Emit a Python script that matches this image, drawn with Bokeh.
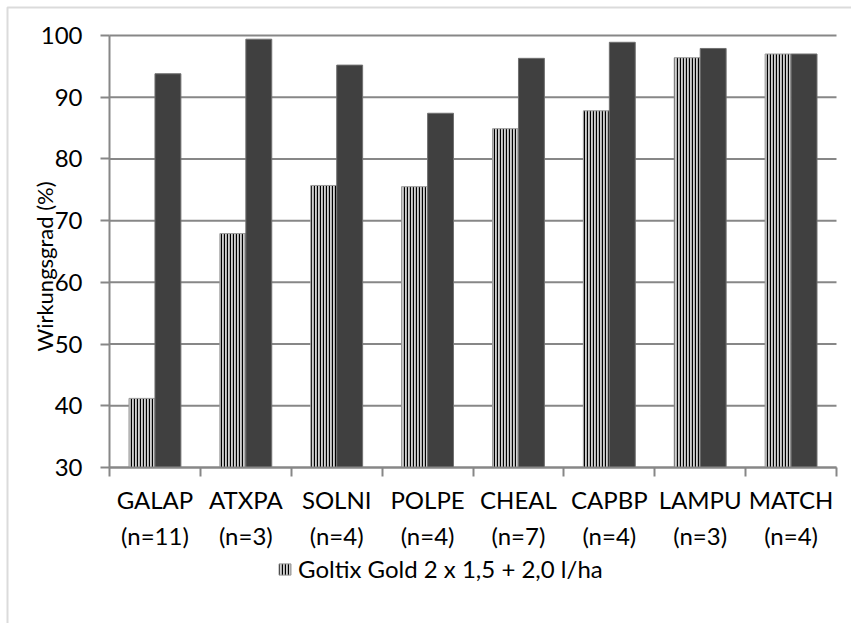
import math
from bokeh.plotting import figure
from bokeh.models import (ColumnDataSource, FixedTicker, Legend, LegendItem,
                          Range1d, Label, BoxAnnotation)
from bokeh.transform import dodge
from bokeh.embed import file_html
from bokeh.resources import INLINE

categories = ["GALAP", "ATXPA", "SOLNI", "POLPE", "CHEAL", "CAPBP", "LAMPU", "MATCH"]
n_counts = ["(n=11)", "(n=3)", "(n=4)", "(n=4)", "(n=7)", "(n=4)", "(n=3)", "(n=4)"]
goltix = [41.2, 67.9, 75.7, 75.5, 84.9, 87.8, 96.4, 97.0]
other = [93.8, 99.4, 95.2, 87.4, 96.3, 98.9, 97.9, 97.0]
legend_label = "Goltix Gold 2 x 1,5 + 2,0 l/ha"
y_title = "Wirkungsgrad (%)"
y_ticks = [30, 40, 50, 60, 70, 80, 90, 100]

FONT = "Lato"
FS = "24px"
GRAY = "#878787"
W, H = 851, 623

# plot area in pixels (the frame is the whole canvas; axes are pinned inside it)
PL, PR, PT, PB = 109, 836, 35, 467
ncat = len(categories)
ymin, ymax = y_ticks[0], y_ticks[-1]
sx = (PR - PL) / ncat
sy = (PB - PT) / (ymax - ymin)
x_start = -PL / sx
x_end = ncat + (W - PR) / sx
y_start = ymin - (H - PB) / sy
y_end = ymax + PT / sy


def px_x(px):
    return (px - PL) / sx


def px_y(py):
    return ymin + (PB - py) / sy


pos = [i + 0.5 for i in range(ncat)]
src = ColumnDataSource(dict(x=pos, goltix=goltix, other=other))

p = figure(width=W, height=H, output_backend="svg", toolbar_location=None,
           x_range=Range1d(x_start, x_end), y_range=Range1d(y_start, y_end),
           min_border=0, min_border_left=0, min_border_right=0,
           min_border_top=0, min_border_bottom=0)
p.outline_line_color = None
p.background_fill_color = "white"
p.border_fill_color = "white"
p.xgrid.visible = False
p.ygrid.visible = False

# horizontal grid lines across the plot area only
p.segment(x0=0, x1=ncat, y0=y_ticks, y1=y_ticks, line_color=GRAY, line_width=2)

r1 = p.vbar(x=dodge("x", -0.143, range=p.x_range), top="goltix", bottom=ymin, width=0.285,
            source=src, fill_color="#d0d0d0", hatch_pattern="|", hatch_color="black",
            hatch_scale=3, hatch_weight=1.3, line_color="#9a9a9a", line_width=1)
r2 = p.vbar(x=dodge("x", 0.143, range=p.x_range), top="other", bottom=ymin, width=0.285,
            source=src, fill_color="#404040", line_color="#707070", line_width=1)

# y axis pinned at x = 0
yax = p.yaxis[0]
yax.fixed_location = 0
yax.bounds = (ymin, ymax)
yax.ticker = FixedTicker(ticks=y_ticks)
yax.axis_line_color = GRAY
yax.axis_line_width = 2
yax.major_tick_line_color = GRAY
yax.major_tick_line_width = 2
yax.major_tick_out = 9
yax.major_tick_in = 0
yax.minor_tick_line_color = None
yax.major_label_text_font = FONT
yax.major_label_text_font_size = FS
yax.major_label_text_color = "black"
yax.major_label_standoff = 18

# x axis pinned at y = 30: labels centred in each category, ticks on boundaries
xax = p.xaxis[0]
xax.fixed_location = ymin
xax.bounds = (0, ncat)
xax.ticker = FixedTicker(ticks=pos, minor_ticks=list(range(ncat + 1)))
xax.major_label_overrides = {pos[i]: categories[i] + "\n" + n_counts[i] for i in range(ncat)}
xax.axis_line_color = GRAY
xax.axis_line_width = 2
xax.major_tick_out = 0
xax.major_tick_in = 0
xax.minor_tick_line_color = GRAY
xax.minor_tick_line_width = 2
xax.minor_tick_out = 9
xax.minor_tick_in = 0
xax.major_label_text_font = FONT
xax.major_label_text_font_size = FS
xax.major_label_text_line_height = 1.25
xax.major_label_text_color = "black"
xax.major_label_standoff = 8

# y-axis title
p.add_layout(Label(x=px_x(44), y=px_y(266), text=y_title, angle=math.pi / 2,
                   text_align="center", text_baseline="middle", text_font=FONT,
                   text_font_size="22px", text_color="black"))

legend = Legend(items=[LegendItem(label=legend_label, renderers=[r1])],
                location=(277, 40), orientation="horizontal")
legend.label_text_font = FONT
legend.label_text_font_size = FS
legend.label_text_color = "black"
legend.glyph_width = 15
legend.glyph_height = 14
legend.label_standoff = 6
legend.border_line_color = None
legend.background_fill_alpha = 0
legend.padding = 0
legend.margin = 0
p.add_layout(legend, "center")

# chart-area border (right and bottom edges fall outside the window)
p.add_layout(BoxAnnotation(left=px_x(7), right=px_x(W + 20), top=px_y(7), bottom=px_y(H + 20),
                           fill_alpha=0, line_color=GRAY, line_width=2))

open("out.html", "w").write(file_html(p, INLINE))
